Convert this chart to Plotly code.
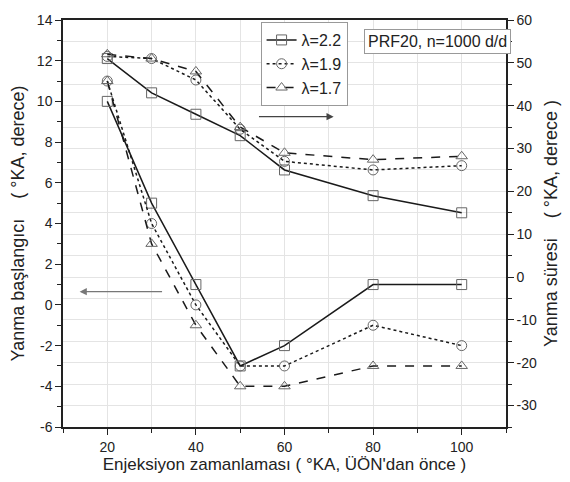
import plotly.graph_objects as go

x_vals = [20, 30, 40, 50, 60, 80, 100]
labels = ["λ=2.2", "λ=1.9", "λ=1.7"]

# Yanma başlangıcı (left axis)
start_22 = [10, 5, 1, -3, -2, 1, 1]
start_19 = [11, 4, 0, -3, -3, -1, -2]
start_17 = [11, 3, -1, -4, -4, -3, -3]

# Yanma süresi (right axis)
dur_22 = [51, 43, 38, 33, 25, 19, 15]
dur_19 = [51.5, 51, 46, 34.5, 27, 25, 26]
dur_17 = [52, 51, 48, 35, 29, 27.4, 28.2]

left_ticks = [-6, -4, -2, 0, 2, 4, 6, 8, 10, 12, 14]
left_ticktext = ["-6", "-4", "-2", "0", "2", "4", "6", "8", "10", "12", "14"]
right_ticks = [-30, -20, -10, 0, 10, 20, 30, 40, 50, 60]
right_ticktext = ["-30", "-20", "-10", "0", "10", "20", "30", "40", "50", "60"]
x_ticks = [20, 40, 60, 80, 100]

FONT = "Liberation Sans, Arial, sans-serif"
LINE_C = "#1a1a1a"
MK_C = "#666666"
NB = "\u00a0"

styles = [
    dict(dash="solid", symbol="square-open"),
    dict(dash="dot", symbol="circle-open"),
    dict(dash="dash", symbol="triangle-up-open"),
]

fig = go.Figure()
series = [(start_22, dur_22), (start_19, dur_19), (start_17, dur_17)]
for i, ((s, d), st, lab) in enumerate(zip(series, styles, labels)):
    for j, (vals, ax) in enumerate([(d, "y2"), (s, "y")]):
        fig.add_trace(go.Scatter(
            x=x_vals, y=vals, yaxis=ax, mode="lines+markers",
            name=lab, legendgroup=lab, showlegend=(j == 0),
            line=dict(color=LINE_C, width=1.5, dash=st["dash"]),
            marker=dict(symbol=st["symbol"], size=10,
                        color=MK_C, line=dict(color=MK_C, width=1)),
        ))

fig.update_layout(
    width=570, height=482,
    margin=dict(l=63, r=54, t=15, b=54),
    paper_bgcolor="white", plot_bgcolor="white",
    font=dict(family=FONT, size=14, color="#222"),
    showlegend=True,
    legend=dict(
        x=0.446, y=0.995, xanchor="left", yanchor="top",
        bgcolor="white", bordercolor="#999", borderwidth=1,
        font=dict(size=16, family=FONT), tracegroupgap=0,
        itemwidth=30,
    ),
    xaxis=dict(
        range=[10, 110], tickmode="array", tickvals=x_ticks,
        ticks="outside", ticklen=6, tickcolor="#222",
        showline=True, linecolor="#222", linewidth=1.5, mirror=True,
        showgrid=True, gridcolor="#e4e4e4", gridwidth=1,
        minor=dict(dtick=10, tick0=10, ticks="outside", ticklen=4,
                   tickcolor="#222", showgrid=True, gridcolor="#e4e4e4"),
        zeroline=False,
        title=dict(text="Enjeksiyon zamanlaması ( °KA, ÜÖN'dan önce )",
                   font=dict(size=17), standoff=4),
        tickfont=dict(size=14),
    ),
    yaxis=dict(
        range=[-6, 14], tickmode="array", tickvals=left_ticks,
        ticktext=left_ticktext,
        ticks="outside", ticklen=6, tickcolor="#222",
        showline=True, linecolor="#222", linewidth=1.5,
        showgrid=False, zeroline=False,
        minor=dict(dtick=1, tick0=0, ticks="outside", ticklen=4, tickcolor="#222"),
        title=dict(text="Yanma başlangıcı" + NB * 4 + "(" + NB + "°KA, derece)",
                   font=dict(size=18), standoff=8),
        tickfont=dict(size=14),
    ),
    yaxis2=dict(
        range=[-35, 60], tickmode="array", tickvals=right_ticks,
        ticktext=right_ticktext, overlaying="y", side="right",
        ticks="outside", ticklen=6, tickcolor="#222",
        showline=True, linecolor="#222", linewidth=1.5,
        showgrid=True, gridcolor="#e4e4e4", zeroline=False,
        minor=dict(dtick=5, tick0=0, ticks="outside", ticklen=4, tickcolor="#222",
                   showgrid=True, gridcolor="#e4e4e4"),
        title=dict(text="Yanma süresi" + NB * 4 + "(" + NB + "°KA, derece" + NB + ")",
                   font=dict(size=18), standoff=8),
        tickfont=dict(size=14),
    ),
)

# arrows
fig.add_annotation(x=13.75, y=0.65, ax=32.7, ay=0.65, xref="x", yref="y",
                   axref="x", ayref="y", showarrow=True, arrowhead=2,
                   arrowsize=1.2, arrowwidth=1.2, arrowcolor="#777", text="")
fig.add_annotation(x=71.1, y=9.25, ax=53.9, ay=9.25, xref="x", yref="y",
                   axref="x", ayref="y", showarrow=True, arrowhead=2,
                   arrowsize=1.2, arrowwidth=1.2, arrowcolor="#444", text="")

fig.add_annotation(x=0.68, y=0.948, xref="paper", yref="paper",
                   xanchor="left", yanchor="middle",
                   text="PRF20, n=1000 d/d", showarrow=False,
                   font=dict(size=16, family=FONT, color="#222"),
                   bgcolor="white", bordercolor="#999", borderwidth=1,
                   borderpad=3)

fig.write_html("out.html")
